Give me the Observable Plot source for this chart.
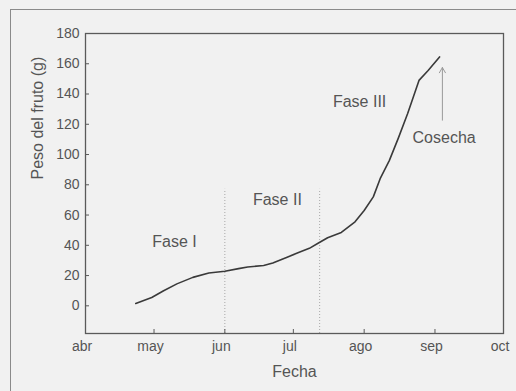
<!DOCTYPE html>
<html>
<head>
<meta charset="utf-8">
<script src="https://cdn.jsdelivr.net/npm/d3@7"></script>
<script src="https://cdn.jsdelivr.net/npm/@observablehq/plot@0.6"></script>
<style>
  html, body { margin: 0; padding: 0; background: #f1f1f1; overflow: hidden; }
  #wrap { position: relative; width: 516px; height: 391px; }
  #border { position: absolute; left: 10px; top: 9px; width: 600px; height: 500px;
            border: 1.5px solid #8a8a8a; pointer-events: none; }
  svg { display: block; background: #f1f1f1; }
</style>
</head>
<body>
<div id="wrap"><div id="border"></div></div>
<script>
// Data
const dates = ["2000-04-23","2000-04-30","2000-05-05","2000-05-11","2000-05-18","2000-05-25",
  "2000-06-01","2000-06-07","2000-06-11","2000-06-18","2000-06-22","2000-06-28","2000-07-03",
  "2000-07-08","2000-07-12","2000-07-16","2000-07-22","2000-07-28","2000-08-01","2000-08-05",
  "2000-08-08","2000-08-12","2000-08-16","2000-08-20","2000-08-25","2000-08-29","2000-09-03"];
const weights = [1.5, 5.5, 9.8, 14.5, 18.8, 21.7, 22.8, 24.6, 25.7, 26.6, 28.3, 32, 35,
  38, 41.5, 45, 48.5, 55.5, 63, 72, 84, 96, 111, 127, 149, 155.5, 164.5];
const monthTicks = ["2000-04-01","2000-05-01","2000-06-01","2000-07-01","2000-08-01","2000-09-01","2000-10-01"];
const monthLabels = ["abr","may","jun","jul","ago","sep","oct"];
const yTicks = [0, 20, 40, 60, 80, 100, 120, 140, 160, 180];
const phaseBounds = ["2000-06-01T00:00", "2000-07-12T12:00"];
const phaseTop = 77;
const phaseLabels = ["Fase I", "Fase II", "Fase III"];
const phaseLabelDates = ["2000-05-10", "2000-06-24", "2000-07-30"];
const phaseLabelValues = [42.5, 70, 134.5];
const harvestLabel = "Cosecha";
const harvestDate = "2000-09-05";
const harvestLabelValue = 110.8;
const harvestArrowDate = "2000-09-04T06:00";
const harvestArrowFrom = 122.7;
const harvestArrowTo = 157.5;
const xTitle = "Fecha";
const yTitle = "Peso del fruto (g)";

const P = s => new Date(s.length > 10 ? s + "Z" : s);
const series = dates.map((d, i) => ({date: P(d), w: weights[i]}));
const tickDates = monthTicks.map(P);
const fmt = d => monthLabels[tickDates.findIndex(t => +t === +d)];
const phases = phaseLabels.map((t, i) => ({t, date: P(phaseLabelDates[i]), v: phaseLabelValues[i]}));

const font = "'Liberation Sans', Arial, Helvetica, sans-serif";
const textColor = "#555555";

const chart = Plot.plot({
  width: 516,
  height: 391,
  marginLeft: 85,
  marginRight: 13,
  marginTop: 33,
  marginBottom: 58,
  style: {fontFamily: font, fontSize: "14px", color: textColor, background: "#f1f1f1"},
  x: {type: "utc", domain: [tickDates[0], tickDates[tickDates.length - 1]]},
  y: {domain: [-18.3, 180]},
  marks: [
    Plot.ruleX(phaseBounds.map(P), {y1: -18.3, y2: phaseTop, stroke: "#a8a8a8", strokeWidth: 1, strokeDasharray: "1,2"}),
    Plot.frame({stroke: "#5a5a5a", strokeWidth: 1.3}),
    Plot.axisX({ticks: tickDates, tickSize: -4, fill: "none", stroke: "#5a5a5a", label: null, tickFormat: fmt}),
    Plot.axisX({ticks: tickDates, tickSize: 0, tickPadding: 8, tickFormat: fmt, label: null, fill: textColor, dx: -3.5, fontSize: 14}),
    Plot.axisY({ticks: yTicks, tickSize: -4, fill: "none", stroke: "#5a5a5a", label: null}),
    Plot.axisY({ticks: yTicks, tickSize: 0, tickPadding: 6, label: null, fill: textColor, fontSize: 14}),
    Plot.line(series, {x: "date", y: "w", stroke: "#3a3a3a", strokeWidth: 1.6, curve: "linear"}),
    Plot.text(phases, {x: "date", y: "v", text: "t", fontSize: 16, fill: textColor}),
    Plot.text([harvestLabel], {x: () => P(harvestDate), y: () => harvestLabelValue, text: d => d, fontSize: 16, fill: textColor}),
    Plot.arrow([0], {x1: () => P(harvestArrowDate), x2: () => P(harvestArrowDate), y1: () => harvestArrowFrom, y2: () => harvestArrowTo,
      stroke: "#9a9a9a", strokeWidth: 1, headLength: 9, bend: 0}),
    Plot.text([xTitle], {frameAnchor: "bottom", dy: 43, text: d => d, fontSize: 16, fill: textColor}),
    Plot.text([yTitle], {frameAnchor: "left", dx: -47.7, dy: -4, rotate: -90, text: d => d, fontSize: 16, fill: textColor})
  ]
});
document.getElementById("wrap").prepend(chart);
</script>
</body>
</html>
